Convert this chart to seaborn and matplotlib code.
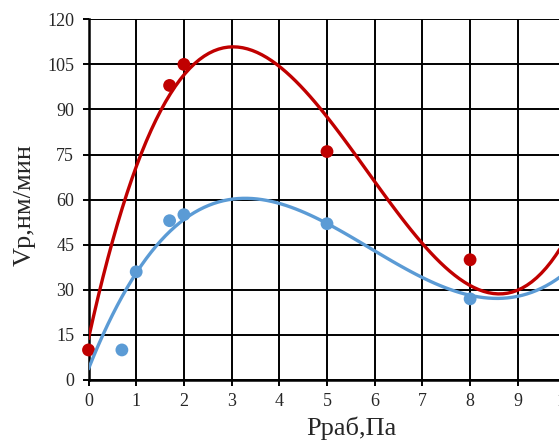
import numpy as np
import pandas as pd
import seaborn as sns
import matplotlib
matplotlib.use("Agg")
import matplotlib.pyplot as plt

# measured points
red_x = [0, 1.7, 2, 5, 8]
red_y = [10, 98, 105, 76, 40]
blue_x = [0.7, 1, 1.7, 2, 5, 8]
blue_y = [10, 36, 53, 55, 52, 27]

# trend curves
curve_x = [0, 0.25, 0.5, 0.75, 1, 1.25, 1.5, 1.75, 2, 2.5, 3, 3.5, 4, 4.5,
           5, 5.5, 6, 6.5, 7, 7.5, 8, 8.5, 9, 9.5, 10]
red_curve = [13, 31, 46, 59.5, 71.5, 81.5, 90, 96, 101, 107.5, 110, 109, 104.5,
             97, 88, 77.5, 66.5, 55.5, 45, 36.5, 31, 29, 30, 36, 46.5]
blue_curve = [2, 14, 23, 30, 35, 41, 46, 50, 53, 57.5, 60, 60.3, 59, 56,
              52, 47.8, 43.3, 38.5, 34, 30.3, 28, 27, 27.8, 31, 35.5]

x_ticks = list(range(0, 11))
y_ticks = list(range(0, 121, 15))

RED = "#C00000"
BLUE = "#5B9BD5"

sns.set_style("white")
plt.rcParams["font.family"] = ["Liberation Serif", "DejaVu Serif"]

fig = plt.figure(figsize=(5.59, 4.43), dpi=100)
W, H = 559, 443
x0, x10 = 88.5, 88.5 + 47.7 * 10
y0, y120 = 380, 19.3
ax = fig.add_axes([x0 / W, (H - y0) / H, (x10 - x0) / W, (y0 - y120) / H])

pts_red = pd.DataFrame({"x": red_x, "y": red_y})
pts_blue = pd.DataFrame({"x": blue_x, "y": blue_y})
cur_red = pd.DataFrame({"x": curve_x, "y": red_curve})
cur_blue = pd.DataFrame({"x": curve_x, "y": blue_curve})

sns.scatterplot(data=pts_blue, x="x", y="y", ax=ax, color=BLUE, s=85,
                edgecolor="none", zorder=3, clip_on=False)
sns.scatterplot(data=pts_red, x="x", y="y", ax=ax, color=RED, s=85,
                edgecolor="none", zorder=4, clip_on=False)
# polynomial trend lines (like the spreadsheet's trendline) through the read curve
sns.regplot(data=cur_red, x="x", y="y", ax=ax, order=4, scatter=False, ci=None,
            color=RED, line_kws={"lw": 2.4, "zorder": 5})
sns.regplot(data=cur_blue, x="x", y="y", ax=ax, order=4, scatter=False, ci=None,
            color=BLUE, line_kws={"lw": 2.4, "zorder": 6})

ax.set_xlim(0, 10)
ax.set_ylim(0, 120)
ax.set_xticks(x_ticks)
ax.set_yticks(y_ticks)
ax.grid(True, color="black", lw=1.4)
ax.set_axisbelow(True)
for s in ["top", "right"]:
    ax.spines[s].set_visible(False)
for s in ["left", "bottom"]:
    ax.spines[s].set_color("black")
    ax.spines[s].set_linewidth(1.8)
ax.tick_params(axis="both", which="both", direction="out", length=4.3, width=1.4,
               color="black", labelsize=13, left=True, bottom=True)
ax.tick_params(axis="x", pad=5)
ax.tick_params(axis="y", pad=6)
ax.set_xlabel("Pраб,Па", fontsize=19)
ax.set_ylabel("Vp,нм/мин", fontsize=19)
ax.xaxis.set_label_coords((351 - x0) / (x10 - x0), -(428 - y0) / (y0 - y120))
ax.yaxis.set_label_coords(-(x0 - 25) / (x10 - x0), (y0 - 205) / (y0 - y120))
ax.xaxis.label.set_va("center")
ax.yaxis.label.set_va("center")

fig.savefig("out.png", dpi=100)
